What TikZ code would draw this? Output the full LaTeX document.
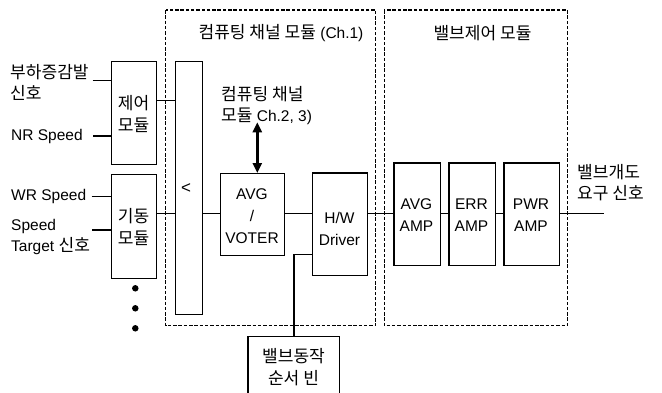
\documentclass[tikz,border=0pt]{standalone}
\usepackage{fontspec}
\setmainfont{Liberation Sans}
\newfontfamily\kofont[Scale=1.1]{Noto Sans CJK KR}
\newcommand{\K}[1]{{\kofont #1}}
\usetikzlibrary{arrows.meta}
\tikzset{
  blk/.style={draw, line width=1.3pt, rectangle, inner sep=0pt, anchor=north west},
  lbl/.style={inner sep=0pt, align=center, font=\fontsize{15.5}{22}\selectfont},
  lbll/.style={inner sep=0pt, align=left, anchor=west, font=\fontsize{15.5}{21}\selectfont},
  wire/.style={line width=1.3pt},
  dbox/.style={draw, line width=1.3pt, dash pattern=on 3.5pt off 1.8pt},
  dot/.style={circle, fill=black, inner sep=0pt, minimum size=6.5pt}
}
\begin{document}
\begin{tikzpicture}[x=1pt,y=-1pt]
\useasboundingbox (0,0) rectangle (662,392);
% dashed modules
\draw[dbox] (165.5,10) rectangle (375.7,325.7);
\draw[dbox] (384.3,10) rectangle (567.3,325.7);
\node[lbl] (t1) at (281,33) {\K{컴퓨팅 채널 모듈} (Ch.1)};
\node[lbl] (t2) at (482.5,33) {\K{밸브제어 모듈}};
% blocks
\node[blk, minimum width=45pt, minimum height=103pt] (ctrl) at (111,61) {};
\node[lbl] at (133.5,114) {\K{제어}\\\K{모듈}};
\node[blk, minimum width=45pt, minimum height=103.7pt] (start) at (111,174) {};
\node[lbl] at (133.5,227) {\K{기동}\\\K{모듈}};
\node[blk, minimum width=27pt, minimum height=253pt] (cmp) at (175,61) {};
\node[lbl, font=\fontsize{17}{20}\selectfont] (lt) at (186,189) {<};
\node[blk, minimum width=64pt, minimum height=82pt] (avg) at (220,173) {};
\node[lbl] at (252,216) {AVG\\/\\VOTER};
\node[blk, minimum width=55pt, minimum height=102.7pt] (hw) at (312,172.3) {};
\node[lbl] at (339.5,229) {H/W\\Driver};
\node[blk, minimum width=46.4pt, minimum height=102.7pt] (aamp) at (393.3,162.3) {};
\node[lbl] at (416.5,215.5) {AVG\\AMP};
\node[blk, minimum width=46.4pt, minimum height=102.7pt] (eamp) at (448.3,162.3) {};
\node[lbl] at (471.5,215.5) {ERR\\AMP};
\node[blk, minimum width=55.4pt, minimum height=102.7pt] (pamp) at (503.3,162.3) {};
\node[lbl] at (531,215.5) {PWR\\AMP};
\node[blk, minimum width=91.7pt, minimum height=80pt] (seq) at (247.3,335.7) {};
\node[lbl] at (293.5,367.5) {\K{밸브동작}\\\K{순서 빈}};
% labels
\node[lbll] (in1) at (10,82) {\K{부하증감발}\\\K{신호}};
\node[lbll] (in2) at (11,136) {NR Speed};
\node[lbll] (in3) at (11,196) {WR Speed};
\node[lbll] (in4) at (11,237) {Speed\\Target \K{신호}};
\node[lbll] (ch23) at (221,105.5) {\K{컴퓨팅 채널}\\\K{모듈} Ch.2, 3)};
\node[lbll] (outl) at (577,183) {\K{밸브개도}\\\K{요구 신호}};
% dots
\node[dot] (d1) at (135.3,288.3) {};
\node[dot] (d2) at (135.3,308.3) {};
\node[dot] (d3) at (135.3,328.3) {};
% free ends
\coordinate (e1) at (92.7,80.7);
\coordinate (e2) at (93,136);
\coordinate (e3) at (91.7,196.7);
\coordinate (e4) at (92,230);
\coordinate (eo) at (604.3,213.3);
% wires
\draw[wire] (e1) -- (e1 -| ctrl.west);
\draw[wire] (e2) -- (e2 -| ctrl.west);
\draw[wire] (e3) -- (e3 -| start.west);
\draw[wire] (e4) -- (e4 -| start.west);
\coordinate (yc) at (0,100.7);
\coordinate (ym) at (0,213.3);
\draw[wire] (ctrl.east |- yc) -- (cmp.west |- yc);
\draw[wire] (start.east |- ym) -- (cmp.west |- ym);
\draw[wire] (cmp.east |- ym) -- (avg.west |- ym);
\draw[wire] (avg.east |- ym) -- (hw.west |- ym);
\draw[wire] (hw.east |- ym) -- (aamp.west |- ym);
\draw[wire] (aamp.east |- ym) -- (eamp.west |- ym);
\draw[wire] (eamp.east |- ym) -- (pamp.west |- ym);
\draw[wire] (pamp.east |- ym) -- (eo);
\coordinate (yh) at (0,254.3);
\coordinate (xh) at (294,0);
\draw[wire] (hw.west |- yh) -- (xh |- yh) -- (xh |- seq.north);
\coordinate (ar) at (257.3,122.3);
\draw[line width=2.4pt, {Triangle[width=9pt,length=10pt]}-{Triangle[width=9pt,length=10pt]}] (ar) -- (ar |- avg.north);
\end{tikzpicture}
\end{document}
